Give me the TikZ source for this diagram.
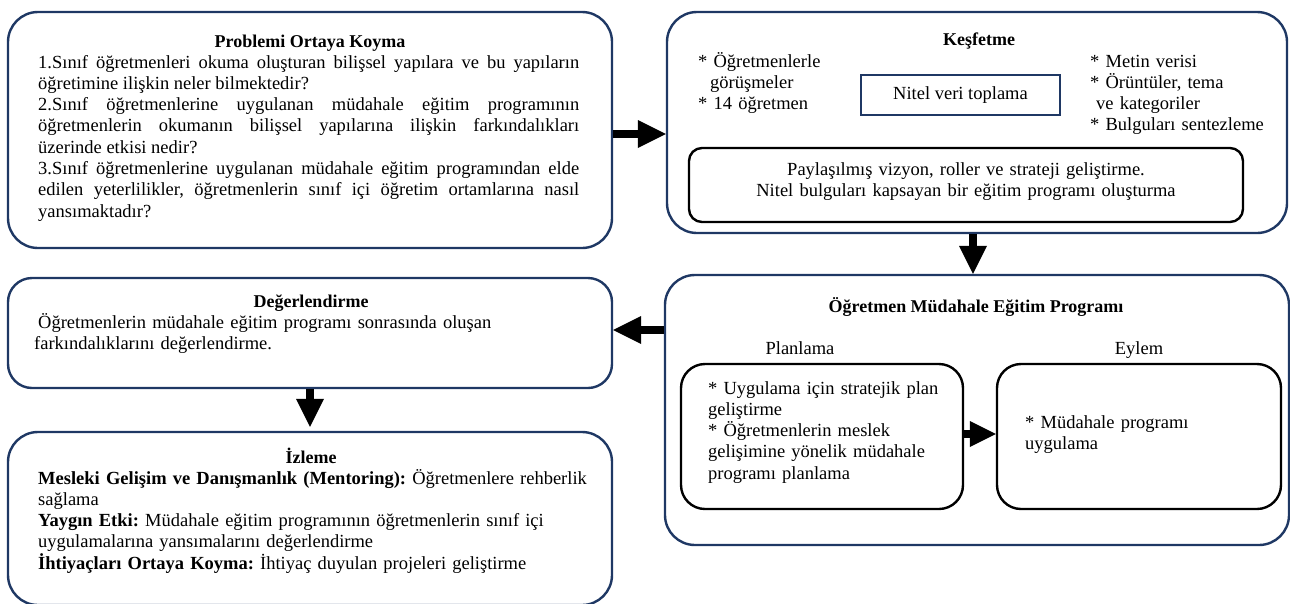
\documentclass[tikz,border=0pt]{standalone}
\usepackage{fontspec}
\setmainfont{Liberation Serif}
\usetikzlibrary{arrows.meta}
\definecolor{navy}{RGB}{31,56,100}
\frenchspacing
\begin{document}
\begin{tikzpicture}[x=1pt,y=-1pt,
  outerbox/.style={draw=navy, line width=2.4pt, rounded corners=30pt, inner sep=0pt},
  kbox/.style={draw=black, line width=2.4pt, rounded corners=13pt, inner sep=0pt},
  pbox/.style={draw=black, line width=2.4pt, rounded corners=24pt, inner sep=0pt},
  txt/.style={inner sep=0pt, font=\fontsize{18.5}{21.3}\selectfont\frenchspacing},
  ttl/.style={inner sep=0pt, anchor=base, font=\fontsize{18}{21}\selectfont\bfseries},
  lbl/.style={txt, anchor=base},
  para/.style={txt, anchor=base west, align=left, text width=#1},
  blockarrow/.style={line width=8pt, -{Triangle[length=28pt,width=28pt,line width=0pt]}},
  smallarrow/.style={line width=8pt, -{Triangle[length=26pt,width=26pt,line width=0pt]}}
]
\useasboundingbox (0,0) rectangle (1290,603);

% outer boxes
\node[outerbox, minimum width=604pt, minimum height=236pt] (p1) at (310,130) {};
\node[outerbox, minimum width=620pt, minimum height=221pt] (k) at (977,122.5) {};
\node[outerbox, minimum width=624pt, minimum height=270pt] (og) at (977,410) {};
\node[outerbox, rounded corners=24pt, minimum width=604pt, minimum height=110pt] (d) at (310,333) {};
\node[outerbox, minimum width=604pt, minimum height=173pt] (iz) at (310,518.5) {};

% inner boxes
\node[txt, draw=navy, line width=2.4pt, minimum width=199pt, minimum height=40pt] (nv) at (960.5,95) {Nitel veri toplama};
\node[kbox, minimum width=554pt, minimum height=74pt] (kin) at (966,185) {};
\node[pbox, minimum width=282pt, minimum height=145pt] (pl) at (822,436.5) {};
\node[pbox, minimum width=284pt, minimum height=145pt] (ey) at (1139,436.5) {};

% box 1
\node[ttl] (p1title) at (310,47) {Problemi Ortaya Koyma};
\node[para=541pt, align=justify] (p1text) at (38,68) {\tolerance=10000\hyphenpenalty=10000
1.Sınıf öğretmenleri okuma oluşturan bilişsel yapılara ve bu yapıların\linebreak
öğretimine ilişkin neler bilmektedir?\\
2.Sınıf öğretmenlerine uygulanan müdahale eğitim programının\linebreak
öğretmenlerin okumanın bilişsel yapılarına ilişkin farkındalıkları\linebreak
üzerinde etkisi nedir?\\
3.Sınıf öğretmenlerine uygulanan müdahale eğitim programından elde\linebreak
edilen yeterlilikler, öğretmenlerin sınıf içi öğretim ortamlarına nasıl\linebreak
yansımaktadır?};

% Keşfetme
\node[ttl] (ktitle) at (979,45) {Keşfetme};
\node[para=200pt] (kleft) at (698,67) {* Öğretmenlerle\\\hspace*{12pt}görüşmeler\\\relax* 14 öğretmen};
\node[para=195pt] (kright) at (1090,67) {* Metin verisi\\\relax* Örüntüler, tema\\\hspace*{6pt}ve kategoriler\\\relax* Bulguları sentezleme};
\node[txt, anchor=base, text width=554pt, align=center] (kintext) at (966,175) {Paylaşılmış vizyon, roller ve strateji geliştirme.\\Nitel bulguları kapsayan bir eğitim programı oluşturma};

% Öğretmen Müdahale Eğitim Programı
\node[ttl] (ogtitle) at (976,312) {Öğretmen Müdahale Eğitim Programı};
\node[lbl] (pllabel) at (800,354) {Planlama};
\node[lbl] (eylabel) at (1139,354) {Eylem};
\node[para=250pt] (pltext) at (708,394) {* Uygulama için stratejik plan\\geliştirme\\\relax* Öğretmenlerin meslek\\gelişimine yönelik müdahale\\programı planlama};
\node[para=250pt] (eytext) at (1025,428) {* Müdahale programı\\uygulama};

% Değerlendirme
\node[ttl] (dtitle) at (311,307) {Değerlendirme};
\node[para=570pt] (dtext) at (34,328) {\hspace*{4pt}Öğretmenlerin müdahale eğitim programı sonrasında oluşan\\farkındalıklarını değerlendirme.};

% İzleme
\node[ttl] (iztitle) at (311,463) {İzleme};
\node[para=570pt] (iztext) at (38,484) {\textbf{Mesleki Gelişim ve Danışmanlık (Mentoring):} Öğretmenlere rehberlik\\sağlama\\\textbf{Yaygın Etki:} Müdahale eğitim programının öğretmenlerin sınıf içi\\uygulamalarına yansımalarını değerlendirme\\\textbf{İhtiyaçları Ortaya Koyma:} İhtiyaç duyulan projeleri geliştirme};

% arrows
\draw[blockarrow] (p1.east |- 0,134) -- (k.west |- 0,134);
\draw[blockarrow] (k.south -| 973,0) -- (og.north -| 973,0);
\draw[blockarrow] (og.west |- 0,330) -- (d.east |- 0,330);
\draw[blockarrow, shorten >=4pt] (d.south -| 310,0) -- (iz.north -| 310,0);
\draw[smallarrow] (pl.east |- 0,434) -- (ey.west |- 0,434);
\end{tikzpicture}
\end{document}
